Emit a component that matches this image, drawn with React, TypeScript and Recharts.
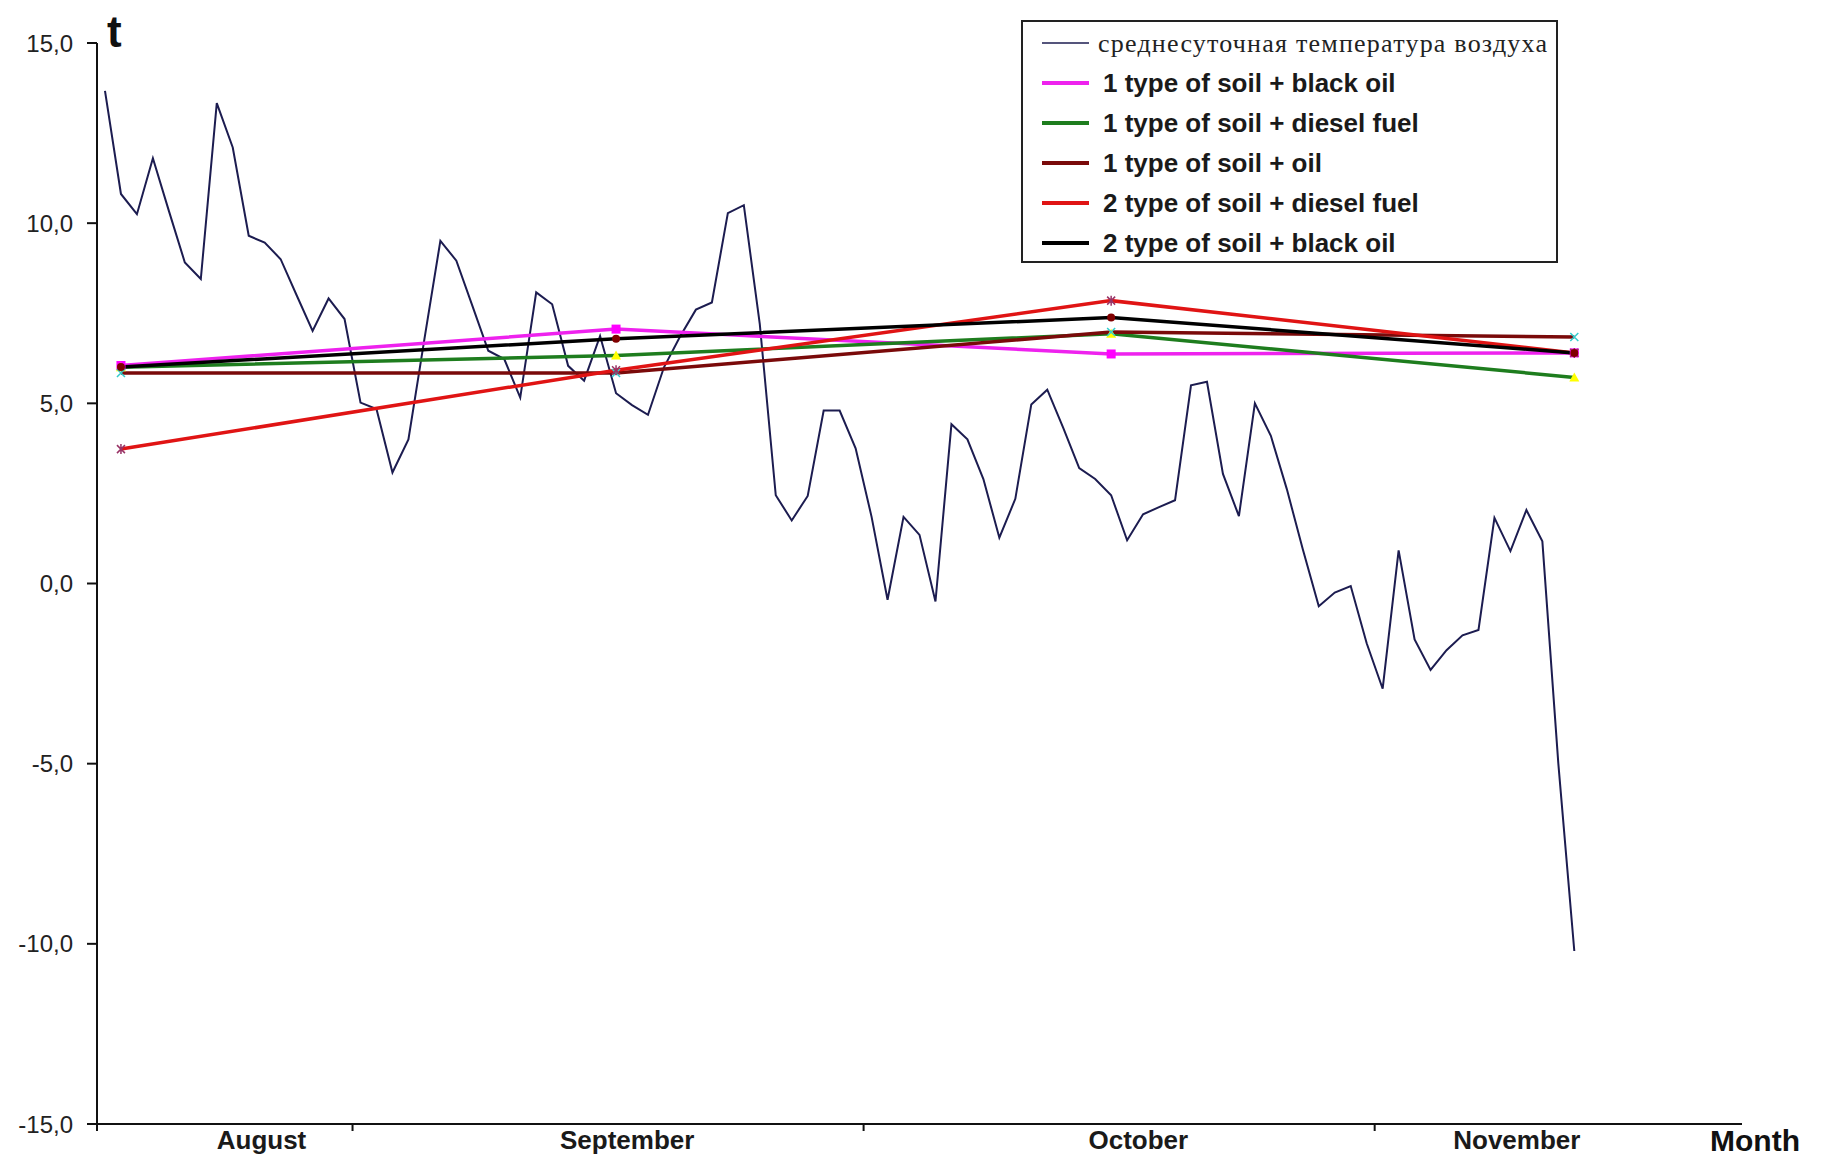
import { LineChart, Line, XAxis, YAxis, Legend } from "recharts";

// daily mean air temperature, one value per day
const tempValues = [
  13.67, 10.81, 10.25, 11.8, 10.34, 8.91, 8.45, 13.33, 12.1, 9.65,
  9.46, 9.0, 8.0, 7.01, 7.91, 7.34, 5.02, 4.84, 3.08, 4.0,
  6.78, 9.51, 8.96, 7.71, 6.46, 6.23, 5.16, 8.08, 7.75, 6.04,
  5.63, 6.87, 5.28, 4.95, 4.68, 6.0, 6.85, 7.6, 7.8, 10.28,
  10.5, 7.2, 2.45, 1.75, 2.43, 4.8, 4.8, 3.75, 1.85, -0.45,
  1.85, 1.35, -0.5, 4.42, 4.0, 2.9, 1.27, 2.35, 4.97, 5.38,
  4.32, 3.2, 2.9, 2.45, 1.2, 1.92, 2.12, 2.31, 5.5, 5.6,
  3.04, 1.87, 5.0, 4.1, 2.62, 0.95, -0.63, -0.25, -0.07, -1.66,
  -2.92, 0.92, -1.55, -2.4, -1.85, -1.44, -1.29, 1.82, 0.9, 2.04,
  1.17, -5.0, -10.2,
];

// soil measurements (day index of each sample)
const sampleDays = [1, 32, 63, 92];
const soil1BlackOil = [6.05, 7.06, 6.37, 6.4];
const soil1Diesel = [6.0, 6.33, 6.93, 5.72];
const soil1Oil = [5.84, 5.84, 6.98, 6.84];
const soil2Diesel = [3.73, 5.92, 7.85, 6.4];
const soil2BlackOil = [6.01, 6.79, 7.38, 6.4];

const monthNames = ["August", "September", "October", "November"];
const monthLabelPos = [9.8, 32.7, 64.7, 88.4];
const monthTickPos = [-0.5, 15.5, 47.5, 79.5];
const yTicks = [-15, -10, -5, 0, 5, 10, 15];

const seriesNames = [
  "среднесуточная температура воздуха",
  "1 type of soil + black oil",
  "1 type of soil + diesel fuel",
  "1 type of soil + oil",
  "2 type of soil + diesel fuel",
  "2 type of soil + black oil",
];

const FONT = "'Liberation Sans', Arial, sans-serif";

const tempData = tempValues.map((v, i) => ({ day: i, value: v }));
const toSeries = (vals: number[]) => sampleDays.map((d, k) => ({ day: d, value: vals[k] }));

const xTicks = [...monthTickPos, ...monthLabelPos].sort((a, b) => a - b);

function MonthTick(props: any) {
  const { x, y, payload } = props;
  const idx = monthLabelPos.indexOf(payload.value);
  if (idx >= 0) {
    return (
      <text x={x} y={y + 25} textAnchor="middle" fontSize={26} fontWeight="bold" fontFamily={FONT} fill="#1a1a1a">
        {monthNames[idx]}
      </text>
    );
  }
  return <line x1={x} x2={x} y1={y} y2={y + 7} stroke="#111" strokeWidth={2} />;
}

function Square({ cx, cy, fill }: any) {
  if (cx == null || cy == null) return null;
  return <rect x={cx - 4.5} y={cy - 4.5} width={9} height={9} fill={fill} />;
}
function Triangle({ cx, cy }: any) {
  if (cx == null || cy == null) return null;
  return <polygon points={`${cx},${cy - 5} ${cx + 5},${cy + 4} ${cx - 5},${cy + 4}`} fill="#ffff00" />;
}
function Cross({ cx, cy }: any) {
  if (cx == null || cy == null) return null;
  return (
    <path d={`M${cx - 4},${cy - 4}L${cx + 4},${cy + 4}M${cx - 4},${cy + 4}L${cx + 4},${cy - 4}`} stroke="#33cccc" strokeWidth={1.5} />
  );
}
function Star({ cx, cy }: any) {
  if (cx == null || cy == null) return null;
  return (
    <path
      d={`M${cx - 4},${cy - 4}L${cx + 4},${cy + 4}M${cx - 4},${cy + 4}L${cx + 4},${cy - 4}M${cx},${cy - 5}L${cx},${cy + 5}`}
      stroke="#993366"
      strokeWidth={1.5}
    />
  );
}
function Circle({ cx, cy }: any) {
  if (cx == null || cy == null) return null;
  return <circle cx={cx} cy={cy} r={4} fill="#800000" />;
}

function LegendBox({ payload }: any) {
  const items = [...(payload || [])].sort(
    (a: any, b: any) => seriesNames.indexOf(a.value) - seriesNames.indexOf(b.value),
  );
  return (
    <svg width={537} height={243} style={{ display: "block" }}>
      <rect x={1} y={1} width={535} height={241} fill="#fff" stroke="#222" strokeWidth={2} />
      {items.map((entry: any, i: number) => {
        const cy = 23 + i * 40;
        const first = i === 0;
        return (
          <g key={entry.value}>
            <line x1={21} x2={68} y1={cy} y2={cy} stroke={entry.color} strokeWidth={first ? 1.5 : 4} />
            {first ? (
              <text
                x={77}
                y={cy}
                dy="0.35em"
                fontSize={26}
                fontFamily="'Liberation Serif', 'Times New Roman', serif"
                fill="#222"
                textLength={449}
                lengthAdjust="spacing"
              >
                {entry.value}
              </text>
            ) : (
              <text x={82} y={cy} dy="0.35em" fontSize={26} fontWeight="bold" fontFamily={FONT} fill="#1a1a1a">
                {entry.value}
              </text>
            )}
          </g>
        );
      })}
    </svg>
  );
}

export default function App() {
  return (
    <div style={{ position: "absolute", left: 0, top: 0, width: 1826, height: 1160, background: "#fff" }}>
      <LineChart width={1826} height={1160} margin={{ top: 43, right: 84, bottom: 6, left: 17 }} style={{ fontFamily: FONT }}>
        <XAxis
          type="number"
          dataKey="day"
          domain={[-0.5, 102.5]}
          ticks={xTicks}
          interval={0}
          tickSize={0}
          tickMargin={0}
          height={30}
          stroke="#111"
          strokeWidth={2}
          tick={(p: any) => <MonthTick {...p} />}
        />
        <YAxis
          type="number"
          domain={[-15, 15]}
          ticks={yTicks}
          interval={0}
          width={80}
          tickSize={10}
          tickMargin={14}
          stroke="#111"
          strokeWidth={2}
          tick={{ fontSize: 24, fill: "#222", fontFamily: FONT }}
          tickFormatter={(v: number) => v.toFixed(1).replace(".", ",")}
        />
        <Legend
          layout="horizontal"
          verticalAlign="middle"
          align="center"
          content={(p: any) => <LegendBox {...p} />}
          wrapperStyle={{ left: 1021, top: 20, width: 537, height: 243 }}
        />
        <Line
          data={tempData}
          dataKey="value"
          name={seriesNames[0]}
          stroke="#1c1c50"
          strokeWidth={2}
          dot={false}
          activeDot={false}
          isAnimationActive={false}
        />
        <Line
          data={toSeries(soil1BlackOil)}
          dataKey="value"
          name={seriesNames[1]}
          stroke="#ee22ee"
          strokeWidth={3.5}
          dot={(p: any) => <Square key={p.index} {...p} fill="#ff00ff" />}
          activeDot={false}
          isAnimationActive={false}
        />
        <Line
          data={toSeries(soil1Diesel)}
          dataKey="value"
          name={seriesNames[2]}
          stroke="#1e7d1e"
          strokeWidth={3.5}
          dot={(p: any) => <Triangle key={p.index} {...p} />}
          activeDot={false}
          isAnimationActive={false}
        />
        <Line
          data={toSeries(soil1Oil)}
          dataKey="value"
          name={seriesNames[3]}
          stroke="#7a0a0a"
          strokeWidth={3.5}
          dot={(p: any) => <Cross key={p.index} {...p} />}
          activeDot={false}
          isAnimationActive={false}
        />
        <Line
          data={toSeries(soil2Diesel)}
          dataKey="value"
          name={seriesNames[4]}
          stroke="#e01414"
          strokeWidth={3.5}
          dot={(p: any) => <Star key={p.index} {...p} />}
          activeDot={false}
          isAnimationActive={false}
        />
        <Line
          data={toSeries(soil2BlackOil)}
          dataKey="value"
          name={seriesNames[5]}
          stroke="#000000"
          strokeWidth={3.5}
          dot={(p: any) => <Circle key={p.index} {...p} />}
          activeDot={false}
          isAnimationActive={false}
        />
      </LineChart>
      <svg width={1826} height={1160} style={{ position: "absolute", left: 0, top: 0, pointerEvents: "none" }}>
        <text x={107} y={47} fontSize={44} fontWeight="bold" fontFamily={FONT} fill="#111">
          t
        </text>
        <text x={1710} y={1151} fontSize={30} fontWeight="bold" fontFamily={FONT} fill="#111">
          Month
        </text>
      </svg>
    </div>
  );
}
